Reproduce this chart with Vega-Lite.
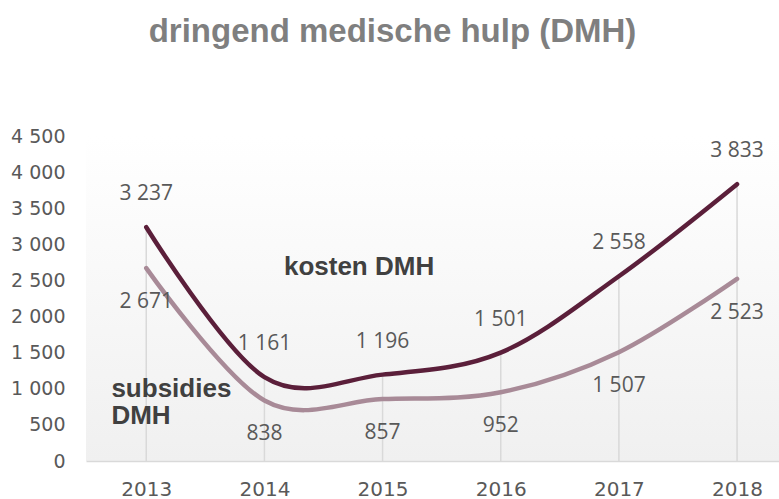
{
  "$schema": "https://vega.github.io/schema/vega-lite/v6.json",
  "width": 693,
  "height": 325,
  "autosize": "none",
  "padding": {"left": 86, "top": 136, "right": 0, "bottom": 38},
  "background": "white",
  "config": {
    "locale": {"number": {"decimal": ",", "thousands": " ", "grouping": [3], "currency": ["", " €"]}},
    "view": {
      "stroke": null,
      "fill": {"gradient": "linear", "x1": 0, "y1": 0, "x2": 0, "y2": 1, "stops": [{"offset": 0, "color": "#ffffff"}, {"offset": 1, "color": "#f0f0f0"}]}
    }
  },
  "title": {
    "text": "dringend medische hulp (DMH)",
    "font": "Liberation Sans",
    "fontSize": 33,
    "fontWeight": "bold",
    "color": "#7f7f7f",
    "frame": "group",
    "anchor": "middle",
    "baseline": "alphabetic",
    "offset": 52,
    "dx": -40
  },
  "datasets": {
    "series": [
      {"year": 2013, "series": "kosten DMH", "value": 3237},
      {"year": 2014, "series": "kosten DMH", "value": 1161},
      {"year": 2015, "series": "kosten DMH", "value": 1196},
      {"year": 2016, "series": "kosten DMH", "value": 1501},
      {"year": 2017, "series": "kosten DMH", "value": 2558},
      {"year": 2018, "series": "kosten DMH", "value": 3833},
      {"year": 2013, "series": "subsidies DMH", "value": 2671},
      {"year": 2014, "series": "subsidies DMH", "value": 838},
      {"year": 2015, "series": "subsidies DMH", "value": 857},
      {"year": 2016, "series": "subsidies DMH", "value": 952},
      {"year": 2017, "series": "subsidies DMH", "value": 1507},
      {"year": 2018, "series": "subsidies DMH", "value": 2523}
    ],
    "names": [
      {"year": 2014.165, "value": 2575, "label": "kosten DMH"},
      {"year": 2012.705, "value": 886, "label": "subsidies\nDMH"}
    ]
  },
  "encoding": {
    "x": {
      "field": "year",
      "type": "quantitative",
      "scale": {"domain": [2012.49, 2018.355], "nice": false, "zero": false},
      "axis": {
        "title": null,
        "values": [2013, 2014, 2015, 2016, 2017, 2018],
        "format": "d",
        "grid": false,
        "ticks": false,
        "tickSize": 0,
        "domain": true,
        "domainColor": "#d9d9d9",
        "domainWidth": 1.5,
        "labelFont": "DejaVu Sans",
        "labelFontSize": 20,
        "labelColor": "#595959",
        "labelPadding": 18
      }
    },
    "y": {
      "field": "value",
      "type": "quantitative",
      "scale": {"domain": [0, 4500], "nice": false},
      "axis": {
        "title": null,
        "values": [0, 500, 1000, 1500, 2000, 2500, 3000, 3500, 4000, 4500],
        "format": ",d",
        "grid": false,
        "ticks": false,
        "tickSize": 0,
        "domain": false,
        "labelFont": "DejaVu Sans",
        "labelFontSize": 19,
        "labelColor": "#595959",
        "labelPadding": 21
      }
    }
  },
  "layer": [
    {
      "data": {"name": "series"},
      "transform": [{"filter": "datum.series === 'kosten DMH'"}],
      "mark": {"type": "rule", "color": "#d9d9d9", "strokeWidth": 1.5},
      "encoding": {"y2": {"datum": 0}}
    },
    {
      "data": {"name": "series"},
      "mark": {"type": "line", "interpolate": "cardinal", "strokeWidth": 4.5, "strokeCap": "round"},
      "encoding": {
        "color": {
          "field": "series",
          "type": "nominal",
          "scale": {"domain": ["kosten DMH", "subsidies DMH"], "range": ["#5b1f3a", "#a88a97"]},
          "legend": null
        }
      }
    },
    {
      "data": {"name": "series"},
      "transform": [{"filter": "datum.series === 'kosten DMH'"}],
      "mark": {"type": "text", "font": "Open Sans", "fontSize": 21, "color": "#595959", "baseline": "middle", "align": "center", "dy": -33},
      "encoding": {"text": {"field": "value", "type": "quantitative", "format": ",d"}}
    },
    {
      "data": {"name": "series"},
      "transform": [{"filter": "datum.series === 'subsidies DMH'"}],
      "mark": {"type": "text", "font": "Open Sans", "fontSize": 21, "color": "#595959", "baseline": "middle", "align": "center", "dy": 34},
      "encoding": {"text": {"field": "value", "type": "quantitative", "format": ",d"}}
    },
    {
      "data": {"name": "names"},
      "mark": {"type": "text", "font": "Liberation Sans", "fontSize": 26, "fontWeight": "bold", "color": "#404040", "baseline": "alphabetic", "align": "left", "lineBreak": "\n", "lineHeight": 27},
      "encoding": {"text": {"field": "label", "type": "nominal"}}
    }
  ]
}
